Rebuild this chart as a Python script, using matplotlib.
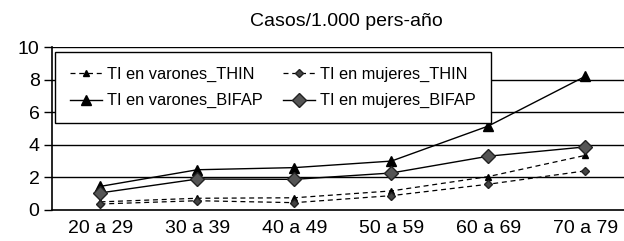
import numpy as np
import matplotlib
matplotlib.use("Agg")
import matplotlib.pyplot as plt

plt.rcParams['font.family'] = ['Liberation Sans', 'DejaVu Sans']

groups = ["20 a 29", "30 a 39", "40 a 49", "50 a 59", "60 a 69", "70 a 79"]
var_thin = [0.5, 0.72, 0.75, 1.17, 2.05, 3.35]
muj_thin = [0.37, 0.57, 0.45, 0.88, 1.58, 2.4]
var_bifap = [1.45, 2.47, 2.6, 3.0, 5.15, 8.2]
muj_bifap = [1.05, 1.9, 1.88, 2.27, 3.3, 3.87]

x = np.arange(len(groups))

fig = plt.figure(figsize=(6.24, 2.41), dpi=100)
ax = fig.add_axes([52 / 624, 1 - 210 / 241, 1 - 52 / 624, 163 / 241])

for y in [2, 4, 6, 8, 10]:
    ax.axhline(y, color='black', lw=1, zorder=0)

l1, = ax.plot(x, var_thin, ls=(0, (4, 3)), color='black', lw=0.9,
              marker='^', ms=4.5, mfc='black', mec='black', zorder=3)
l2, = ax.plot(x, muj_thin, ls=(0, (4, 3)), color='black', lw=0.9,
              marker='D', ms=4, mfc='#444444', mec='#222222', zorder=3)
l3, = ax.plot(x, var_bifap, ls='-', color='black', lw=1,
              marker='^', ms=7.5, mfc='black', mec='black', zorder=3)
l4, = ax.plot(x, muj_bifap, ls='-', color='black', lw=1,
              marker='D', ms=7, mfc='#555555', mec='#222222', zorder=3)

ax.set_xlim(-0.5, 5.4)
ax.set_ylim(0, 10)
ax.set_yticks([0, 2, 4, 6, 8, 10])
ax.set_xticks(x)
ax.set_xticklabels(groups)
ax.tick_params(axis='y', direction='out', length=6, width=1, labelsize=14, pad=3)
ax.tick_params(axis='x', length=0, labelsize=14, pad=7)
for s in ['top', 'right']:
    ax.spines[s].set_visible(False)
ax.spines['left'].set_linewidth(1.2)
ax.spines['bottom'].set_linewidth(1.2)

fig.text(346 / 624, 1 - 22 / 241, "Casos/1.000 pers-año", ha='center', va='center', fontsize=14)

leg = ax.legend([l1, l3, l2, l4],
                ["TI en varones_THIN", "TI en varones_BIFAP",
                 "TI en mujeres_THIN", "TI en mujeres_BIFAP"],
                ncol=2, loc='upper left', bbox_to_anchor=(0.005, 0.97),
                fontsize=11.8, frameon=True, fancybox=False, framealpha=1,
                edgecolor='black', handlelength=2.0, columnspacing=1.2,
                handletextpad=0.3, borderpad=0.9, labelspacing=0.7,
                borderaxespad=0)
leg.get_frame().set_linewidth(1)

fig.savefig("out.png", dpi=100)
